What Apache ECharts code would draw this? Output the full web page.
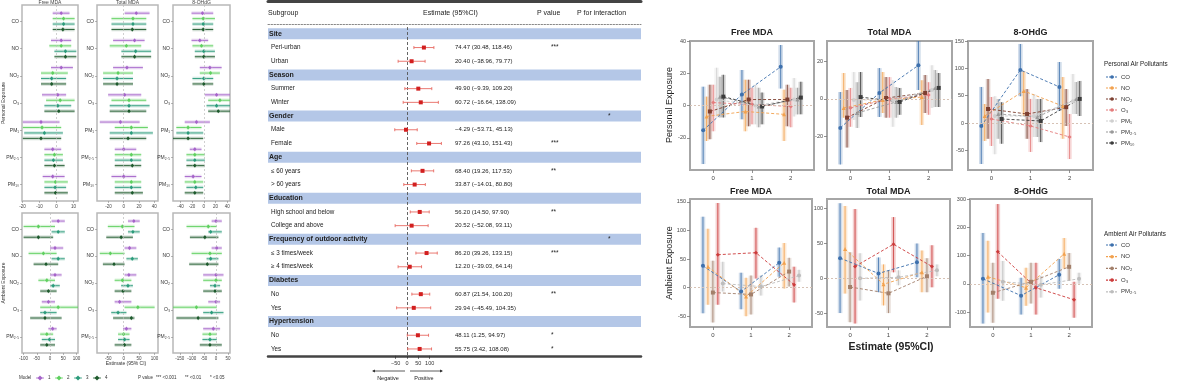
<!DOCTYPE html>
<html><head><meta charset="utf-8">
<script src="https://cdn.jsdelivr.net/npm/echarts@6/dist/echarts.min.js"></script>
<style>html,body{margin:0;padding:0;background:#fff}#c{width:1177px;height:383px}</style>
</head><body><div id="c"></div>
<script>
// ================= DATA =================
const personalPollutants = ['CO','NO','NO₂','O₃','PM₁','PM₂.₅','PM₁₀'];
const ambientPollutants = ['CO','NO','NO₂','O₃','PM₂.₅'];
const outcomes = ['Free MDA','Total MDA','8-OHdG'];
const modelLabels = ['1','2','3','4'];
const exposureLevels = [0,1,2];

// Left forest plots: per pollutant, per model [lo, est, hi]
const fpFreePersonal = [
 [[-2.2,2.8,7.7],[-2.2,4.2,10.7],[-2.2,4.2,10.7],[-2.2,3.8,10.7]],
 [[-3.2,2.8,8.7],[-4.2,2.8,8.7],[-1.2,5.3,11.7],[-1.2,5.3,11.7]],
 [[-3.2,2.8,9.7],[-9.1,-2.2,6.7],[-9.1,-2.8,5.7],[-9.1,-2.8,5.7]],
 [[-8.5,0.8,5.7],[-6.1,2.2,10.7],[-7.1,0.8,8.7],[-7.1,1.4,10.7]],
 [[-19.8,-9.1,1.8],[-19.8,-8.5,2.8],[-19,-7.1,3.8],[-19.8,-9.1,2.8]],
 [[-7.1,-2.2,2.8],[-7.1,-1.2,3.8],[-7.1,-1.8,3.8],[-7.1,-1.2,4.8]],
 [[-8.1,-2.2,4.8],[-7.1,-0.6,6.7],[-7.1,-0.8,5.7],[-7.1,-0.6,6.7]]
];
const fpTotalPersonal = [
 [[1.3,16.5,33.9],[-16,12.2,29.6],[-16,12.2,29.6],[-16,11.3,29.6]],
 [[-13.9,14.3,27.4],[-18.3,3.5,23],[-3,15.7,36],[-3,14.3,36]],
 [[-13.9,4.3,25.2],[-27,-7.4,12.2],[-27,-8.7,12.2],[-27,-8.7,12.2]],
 [[-20.4,1.3,23],[-16,7,29.6],[-18.3,7,33.9],[-18.3,7,29.6]],
 [[-31.3,-4.3,20.9],[-11.7,10,31.7],[-18.3,10,38.3],[-18.3,5.7,29.6]],
 [[-11.7,0,16.5],[-11.7,10,23],[-11.7,10,23],[-11.7,11.3,23]],
 [[-16,0,16.5],[-11.7,10,23],[-11.7,10,23],[-11.7,11.3,25.2]]
];
const fpOhdgPersonal = [
 [[-21,-2.3,16],[-19.4,-1.1,18.9],[-19.4,-1.1,16],[-19.4,-1.1,16]],
 [[-21,-6.9,7.4],[-19.4,-4,16],[-15.4,0,18.9],[-15.4,0,18.9]],
 [[-6.9,10.3,30.3],[-6.9,11.4,27.4],[-19.4,0,16],[-19.4,0,16]],
 [[1.7,21.7,44.6],[7.4,27.4,44.6],[4.6,21.7,44.6],[7.4,24.6,44.6]],
 [[-32.6,-12.6,10.3],[-46.9,-26.9,-4],[-46.9,-26.9,-1.1],[-52.6,-26.9,-1.1]],
 [[-24,-15.4,-4],[-29.7,-15.4,1.7],[-29.7,-15.4,1.7],[-29.7,-15.4,1.7]],
 [[-32.6,-18.3,-4],[-32.6,-15.4,-1.1],[-29.7,-13.7,-1.1],[-32.6,-15.4,-1.1]]
];
const fpFreeAmbient = [
 [[6,31,56],[-100,-44,19],[6,31,56],[-100,-44,12]],
 [[0,19,50],[-81,-25,25],[6,31,56],[-62,-15,31]],
 [[0,19,44],[-44,-12,19],[0,12,37],[-37,-6,25]],
 [[-31,-6,19],[-37,31,106],[-37,-19,25],[-75,-19,44]],
 [[-6,10,25],[-37,-12,12],[-31,-2,19],[-37,-12,19]]
];
const fpTotalAmbient = [
 [[14,33,52],[-51,-4,35],[14,30,52],[-56,-8,30]],
 [[3,19,41],[-77,-43,3],[9,28,46],[-67,-31,3]],
 [[3,17,41],[-29,-4,25],[-8,14,30],[-29,-2,25]],
 [[-29,-13,25],[3,46,100],[-40,-18,9],[-34,25,35]],
 [[-2,9,25],[-18,0,19],[-18,3,19],[-29,3,25]]
];
const fpOhdgAmbient = [
 [[-18,0,24],[-122,-32,3],[-32,-22,24],[-108,-46,10]],
 [[-18,3,24],[-101,-25,24],[-39,-22,10],[-111,-36,10]],
 [[-53,0,31],[-53,0,24],[-25,-4,17],[-53,-4,24]],
 [[-32,0,17],[-178,-81,3],[-53,-18,31],[-164,-74,10]],
 [[-53,-11,17],[-56,-25,3],[-56,-25,3],[-67,-25,24]]
];
const fpXMin = [-20.3,-35,-52.6,-106,-86,-178];
const fpXMax = [12.7,45,44.6,106,111,58];
const fpXTicks = [[-20,-10,0,10],[-20,0,20,40],[-40,-20,0,20,40],[-100,-50,0,50,100],[-50,0,50,100],[-150,-100,-50,0,50]];

// Middle subgroup forest table
const tableGroups = ['Site','Season','Gender','Age','Education','Frequency of outdoor activity','Diabetes','Hypertension'];
const tableSubgroups = [['Peri-urban','Urban'],['Summer','Winter'],['Male','Female'],['≤ 60 years','> 60 years'],['High school and below','College and above'],['≤ 3 times/week','≥ 4 times/week'],['No','Yes'],['No','Yes']];
const tableEst = [74.47,20.40,49.90,60.72,-4.29,97.26,68.40,33.87,56.20,20.52,86.20,12.20,60.87,29.94,48.11,55.75];
const tableLo  = [30.48,-38.96,-9.39,-16.64,-53.71,43.10,19.26,-14.01,14.50,-52.08,39.26,-39.03,21.54,-45.49,1.25,3.42];
const tableHi  = [118.46,79.77,109.20,138.09,45.13,151.43,117.53,80.80,97.90,93.11,133.15,64.14,100.20,104.35,94.97,108.08];
const tablePStars = ['***','','','','','***','**','','**','','***','','**','','*','*'];
const tableInteraction = ['','','*','','','*','',''];
const tableTicks = [-50,0,50,100];

// Right line plots: per pollutant, values at exposure levels 0,1,2
const lpFreePersonalEst = [[-15.4,6.8,24],[-6.8,-3.7,-5.5],[-3.7,3.7,3.7],[1.8,0.6,-0.6],[3.7,0,3.7],[5.5,-0.6,3.7],[5.5,-0.6,4.9]];
const lpFreePersonalLo  = [[-36.3,-8.6,10.5],[-22,-16,-22],[-20.9,-12.9,-12.9],[-16,-11.7,-13.5],[-6.8,-11.7,-6.8],[-7.4,-13.5,-5.5],[-7.4,-11.7,-5.5]];
const lpFreePersonalHi  = [[11.7,22,37.5],[5.5,16,9.8],[12.9,16,12.9],[12.9,11,11],[23.4,12.9,17],[17.8,11,11],[19,8,14.7]];
const lpTotalPersonalEst = [[-15.5,3.2,18],[-4.8,-0.5,1],[-10,0.5,3.2],[-4.8,0,2.1],[-0.5,-0.5,4.8],[-7.5,-1.6,5.9],[1,-1.6,5.9]];
const lpTotalPersonalLo  = [[-35,-9.6,4.8],[-10,-7.5,-13.9],[-26,-10,-7.5],[-14.9,-10,-8.5],[-11.2,-14.9,-4.8],[-15.5,-10,-4.3],[-9.6,-8.5,-4.3]];
const lpTotalPersonalHi  = [[3.7,16.5,35],[13.9,14.4,10],[4.8,11.7,12.8],[5.9,11.7,9],[14.4,10,18],[9,6.4,15.5],[14.4,5.9,13.9]];
const lpOhdgPersonalEst = [[-5.5,97,66],[12.8,58.6,31],[25.6,16.5,29],[7.3,-5.5,-25.6],[12.8,12.8,40],[16.5,11,44],[7.3,3.7,44]];
const lpOhdgPersonalLo  = [[-75,49,22],[-33,12.8,-29],[-29,-29,-5.5],[-42,-53,-66],[-57,-25.6,16.5],[-29,-25.6,16.5],[-38,-35,12.8]];
const lpOhdgPersonalHi  = [[66,144.6,111.6],[34.8,95,84],[80.5,62,62],[47.6,44,16.5],[49,53,89.6],[44,44,75],[38,44,77]];
const lpFreeAmbientEst = [[38,-7,43.5],[36.6,-15.7,43.5],[-8.7,-12,28],[57.5,61,5],[7,1.7,21]];
const lpFreeAmbientLo  = [[-45,-38,19],[-30,-50,-1.7],[-61,-47,1.7],[-30,15.7,-26],[-7,-14,10]];
const lpFreeAmbientHi  = [[124,26,70],[103,17,78],[47,21,52],[148,104.5,36.6],[45,21,31]];
const lpTotalAmbientEst = [[29,7,23],[42,-8.6,8.6],[-12.5,-21.6,2.9],[17,49,17],[0,1.4,11.5]];
const lpTotalAmbientLo  = [[-50,-20,1.4],[-22,-39,-20],[-63,-50,-20],[-65,8.6,-13],[-32,-10,2.9]];
const lpTotalAmbientHi  = [[108,30,50],[104,20,40],[37.5,11.5,29],[99.5,88,47.5],[36,11.5,20]];
const lpOhdgAmbientEst = [[17.6,-42,32],[24.7,-14,106],[-31.8,7,60],[113,-14,-56.5],[7,-3.5,17.6]];
const lpOhdgAmbientLo  = [[-141,-109,-17.6],[-102,-78,53],[-138,-70,10.6],[-53,-109,-120],[-60,-49,0]];
const lpOhdgAmbientHi  = [[180,21,88],[152,56.5,162],[74,74,109],[282,74,7],[81,28,39]];
const lpYMin = [-40,-38,-86,-69,-70,-153];
const lpYMax = [40,31,150,155,114,300];
const lpYTicks = [[-20,0,20,40],[-20,0,20],[-50,0,50,100,150],[-50,0,50,100,150],[-50,0,50,100],[-100,0,100,200,300]];

// ================= STYLE =================
const FONT = 'Liberation Sans, Arial, sans-serif';
const modelColors = ['#a563c9','#5fd05f','#2b9b7a','#1e5a2d'];
const modelOffsets = [-0.3,-0.1,0.1,0.3];
const personalColors = ['#3d70ad','#f2a14e','#7d3f30','#e47c7c','#cfcfcf','#9a9a9a','#3c3c3c'];
const ambientColors = ['#3d70ad','#f2a14e','#a3806b','#cc3b3b','#bdbdbd'];
const personalSymbols = ['circle','triangle','rect','diamond','circle','triangle','rect'];
const ambientSymbols = ['circle','triangle','rect','diamond','circle'];
const personalDodge = [-0.26,-0.173,-0.087,0,0.087,0.173,0.26];
const ambientDodge = [-0.26,-0.13,0,0.13,0.26];

const grids=[], xAxes=[], yAxes=[], series=[], graphics=[];
function txt(x,y,text,size,opts){
  opts=opts||{};
  const el={type:'text', x:x, y:y, silent:true, style:{text:text, font:(opts.style||'normal')+' '+(opts.weight||'normal')+' '+size+'px '+FONT,
    fill:opts.color||'#222', align:opts.align||'left', textAlign:opts.align||'left',
    verticalAlign:'middle', textVerticalAlign:'middle'}};
  if(opts.rotation){el.rotation=opts.rotation;}
  graphics.push(el);
}
function addX(cfg){ xAxes.push(cfg); return xAxes.length-1; }
function addY(cfg){ yAxes.push(cfg); return yAxes.length-1; }

// ================= LEFT: forest panels =================
const leftX = [[22,78],[97,158],[173,230]];
const leftY = [[5,201],[213,353]];
const leftData = [fpFreePersonal,fpTotalPersonal,fpOhdgPersonal,fpFreeAmbient,fpTotalAmbient,fpOhdgAmbient];
function forestRender(params, api){
  const lo=api.value(0), est=api.value(1), hi=api.value(2), cat=api.value(3), m=api.value(4);
  const yv = cat + modelOffsets[m];
  const a=api.coord([lo,yv]), b=api.coord([hi,yv]), c=api.coord([est,yv]);
  const col=modelColors[m];
  return {type:'group', children:[
    {type:'rect', shape:{x:a[0], y:a[1]-1.8, width:b[0]-a[0], height:3.6}, style:{fill:col, opacity:0.2}},
    {type:'line', shape:{x1:a[0],y1:a[1],x2:b[0],y2:b[1]}, style:{stroke:col,lineWidth:0.9}},
    {type:'polygon', shape:{points:[[c[0],c[1]-2.2],[c[0]+2.2,c[1]],[c[0],c[1]+2.2],[c[0]-2.2,c[1]]]}, style:{fill:col, stroke:'#fff', lineWidth:0.3}}
  ]};
}
for(let p=0;p<6;p++){
  const r=Math.floor(p/3), c=p%3;
  const cats = r===0 ? personalPollutants : ambientPollutants;
  const gi = grids.length;
  grids.push({left:leftX[c][0], width:leftX[c][1]-leftX[c][0], top:leftY[r][0], height:leftY[r][1]-leftY[r][0],
    show:true, borderColor:'#b8b8b8', borderWidth:1.5, backgroundColor:'#fff'});
  const xi = addX({gridIndex:gi, type:'value', min:fpXMin[p], max:fpXMax[p],
    axisLine:{show:false, onZero:false}, splitLine:{show:false},
    axisTick:{show:true, customValues:fpXTicks[p], length:2, lineStyle:{color:'#888',width:0.6}},
    axisLabel:{customValues:fpXTicks[p], fontSize:4.5, margin:3, color:'#444', fontFamily:FONT}});
  const idx = cats.map((_,i)=>i);
  const yi = addY({gridIndex:gi, type:'value', inverse:true, min:-0.6, max:cats.length-0.4,
    axisLine:{show:false, onZero:false}, splitLine:{show:false},
    axisTick:{show:true, customValues:idx, length:2, lineStyle:{color:'#888',width:0.6}},
    axisLabel:{customValues:idx, formatter:v=>cats[Math.round(v)], fontSize:5, margin:3, color:'#333', fontFamily:FONT}});
  const data=[];
  leftData[p].forEach((rows,ci)=>rows.forEach((v,m)=>data.push([v[0],v[1],v[2],ci,m])));
  series.push({type:'custom', xAxisIndex:xi, yAxisIndex:yi, clip:true, renderItem:forestRender,
    encode:{x:[0,1,2], y:3}, data:data, silent:true,
    markLine:{silent:true, symbol:'none', label:{show:false}, lineStyle:{type:[2,2], color:'#bbb', width:0.7}, data:[{xAxis:0}]}});
}
outcomes.forEach((t,c)=>txt((leftX[c][0]+leftX[c][1])/2, 2.5, t, 5, {align:'center', color:'#444'}));
txt(4,103,'Personal Exposure',5,{align:'center',rotation:Math.PI/2,color:'#333'});
txt(4,283,'Ambient Exposure',5,{align:'center',rotation:Math.PI/2,color:'#333'});
txt(126,364,'Estimate (95% CI)',5,{align:'center',color:'#333'});
txt(19,378,'Model',4.5,{color:'#333'});
modelLabels.forEach((m,i)=>{
  const x=40+i*19;
  graphics.push({type:'line', silent:true, shape:{x1:x-4,y1:378,x2:x+4,y2:378}, style:{stroke:modelColors[i],lineWidth:0.8}});
  graphics.push({type:'polygon', silent:true, shape:{points:[[x,375.5],[x+2.5,378],[x,380.5],[x-2.5,378]]}, style:{fill:modelColors[i]}});
  txt(x+8,378,m,4.5,{color:'#333'});
});
txt(138,378,'P value',4.5,{color:'#333'});
txt(156,378,'*** <0.001',4.5,{color:'#333'});
txt(185,378,'** <0.01',4.5,{color:'#333'});
txt(210,378,'* <0.05',4.5,{color:'#333'});

// ================= MIDDLE: subgroup table =================
const tableRows=[];
let k=0;
tableGroups.forEach((g,gi)=>{
  tableRows.push({header:true, label:g, inter:tableInteraction[gi]});
  tableSubgroups[gi].forEach(s=>{
    tableRows.push({header:false, label:s, k:k}); k++;
  });
});
const fmt=v=>(v<0?'−':'')+Math.abs(v).toFixed(2);
const rowNames = tableRows.map((r,i)=>String(i));
const TBL_L=268, TBL_W=373, TBL_T=27, TBL_H=328.8;
const tg = grids.length;
grids.push({left:TBL_L, width:TBL_W, top:TBL_T, height:TBL_H, show:false});
const txi = addX({gridIndex:tg, type:'value', min:0, max:1, position:'bottom', axisLine:{show:true, onZero:false, lineStyle:{color:'#444', width:2.5}},
  axisTick:{show:false}, axisLabel:{show:false}, splitLine:{show:false}});
addX({gridIndex:tg, type:'value', min:0, max:1, position:'top', offset:26, axisLine:{show:true, onZero:false, lineStyle:{color:'#444', width:3}},
  axisTick:{show:false}, axisLabel:{show:false}, splitLine:{show:false}});
addX({gridIndex:tg, type:'value', min:0, max:1, position:'top', offset:3, axisLine:{show:true, onZero:false, lineStyle:{color:'#888', width:1, type:[1.5,1.5]}},
  axisTick:{show:false}, axisLabel:{show:false}, splitLine:{show:false}});
const tyi = addY({gridIndex:tg, type:'category', data:rowNames, inverse:true, show:false});
series.push({type:'custom', xAxisIndex:txi, yAxisIndex:tyi, silent:true, data:tableRows.map((r,i)=>[0,i]), encode:{x:0,y:1},
  z:1,
  renderItem:function(params, api){
    const r=tableRows[params.dataIndex];
    const y=api.coord([0,params.dataIndex])[1];
    const cs=params.coordSys;
    const ch=[];
    const T=(x,s,size,w,al)=>({type:'text', style:{text:s, x:x, y:y, font:(w||'normal')+' '+size+'px '+FONT, fill:'#222',
      align:al||'left', textAlign:al||'left', verticalAlign:'middle', textVerticalAlign:'middle'}});
    if(r.header){
      ch.push({type:'rect', shape:{x:cs.x, y:y-5.5, width:cs.width, height:11}, style:{fill:'#b4c7e7'}});
      ch.push(T(cs.x+1, r.label, 7, 'bold'));
      if(r.inter) ch.push(T(608, r.inter, 6.5));
    } else {
      ch.push(T(cs.x+3, r.label, 6.3));
      ch.push(T(455, fmt(tableEst[r.k])+' ('+fmt(tableLo[r.k])+', '+fmt(tableHi[r.k])+')', 6));
      if(tablePStars[r.k]) ch.push(T(551, tablePStars[r.k], 6.5));
    }
    return {type:'group', children:ch};
  }});
const fg = grids.length;
grids.push({left:395.6, width:34.1, top:TBL_T, height:TBL_H, show:false});
const fxi = addX({gridIndex:fg, type:'value', min:-50, max:100, interval:50, axisLine:{show:false, onZero:false}, splitLine:{show:false},
  axisTick:{show:true, length:3, lineStyle:{color:'#333', width:0.8}},
  axisLabel:{fontSize:5.5, margin:5, color:'#333', fontFamily:FONT, formatter:v=>(v<0?'−':'')+Math.abs(v)}});
const fyi = addY({gridIndex:fg, type:'category', data:rowNames, inverse:true, show:false});
const forestData=[];
tableRows.forEach((r,i)=>{ if(!r.header) forestData.push([tableEst[r.k], i, tableLo[r.k], tableHi[r.k]]); });
series.push({type:'custom', xAxisIndex:fxi, yAxisIndex:fyi, silent:true, z:5, data:forestData, encode:{x:[0,2,3], y:1},
  renderItem:function(params, api){
    const est=api.value(0), row=api.value(1), lo=api.value(2), hi=api.value(3);
    const a=api.coord([lo,row]), b=api.coord([hi,row]), c=api.coord([est,row]);
    return {type:'group', children:[
      {type:'line', shape:{x1:a[0],y1:a[1],x2:b[0],y2:b[1]}, style:{stroke:'#e86a62', lineWidth:0.9}},
      {type:'line', shape:{x1:a[0],y1:a[1]-1.5,x2:a[0],y2:a[1]+1.5}, style:{stroke:'#e86a62', lineWidth:0.9}},
      {type:'line', shape:{x1:b[0],y1:b[1]-1.5,x2:b[0],y2:b[1]+1.5}, style:{stroke:'#e86a62', lineWidth:0.9}},
      {type:'rect', shape:{x:c[0]-2,y:c[1]-2,width:4,height:4}, style:{fill:'#d21f1f'}}
    ]};
  },
  markLine:{silent:true, symbol:'none', label:{show:false}, lineStyle:{type:[3,2], color:'#555', width:0.9}, data:[{xAxis:0}]}});
txt(268,12.7,'Subgroup',7);
txt(423,12.7,'Estimate (95%CI)',7);
txt(537,12.7,'P value',7);
txt(577,12.7,'P for interaction',7);
graphics.push({type:'line', silent:true, shape:{x1:405,y1:371,x2:373,y2:371}, style:{stroke:'#333',lineWidth:0.8}});
graphics.push({type:'polygon', silent:true, shape:{points:[[372,371],[375,369.5],[375,372.5]]}, style:{fill:'#333'}});
graphics.push({type:'line', silent:true, shape:{x1:410,y1:371,x2:442,y2:371}, style:{stroke:'#333',lineWidth:0.8}});
graphics.push({type:'polygon', silent:true, shape:{points:[[443,371],[440,369.5],[440,372.5]]}, style:{fill:'#333'}});
txt(388,378,'Negative',5.5,{align:'center'});
txt(424,378,'Positive',5.5,{align:'center'});

// ================= RIGHT: line panels =================
const rightX = [[[690,814],[827,952],[968,1093]],[[690,812],[827,950],[970,1092]]];
const rightY = [[41,170],[199,327]];
const lpEst = [lpFreePersonalEst,lpTotalPersonalEst,lpOhdgPersonalEst,lpFreeAmbientEst,lpTotalAmbientEst,lpOhdgAmbientEst];
const lpLo  = [lpFreePersonalLo,lpTotalPersonalLo,lpOhdgPersonalLo,lpFreeAmbientLo,lpTotalAmbientLo,lpOhdgAmbientLo];
const lpHi  = [lpFreePersonalHi,lpTotalPersonalHi,lpOhdgPersonalHi,lpFreeAmbientHi,lpTotalAmbientHi,lpOhdgAmbientHi];
function errRender(color){
  return function(params, api){
    const x=api.value(0), lo=api.value(1), hi=api.value(2);
    const a=api.coord([x,hi]), b=api.coord([x,lo]);
    return {type:'group', children:[
      {type:'rect', shape:{x:a[0]-2.3, y:a[1], width:4.6, height:b[1]-a[1]}, style:{fill:color, opacity:0.24}},
      {type:'line', shape:{x1:a[0],y1:a[1],x2:b[0],y2:b[1]}, style:{stroke:color, lineWidth:1.1, opacity:0.8}}
    ]};
  };
}
for(let p=0;p<6;p++){
  const r=Math.floor(p/3), c=p%3;
  const names = r===0 ? personalPollutants : ambientPollutants;
  const colors = r===0 ? personalColors : ambientColors;
  const syms = r===0 ? personalSymbols : ambientSymbols;
  const dodge = r===0 ? personalDodge : ambientDodge;
  const gi = grids.length;
  const X=rightX[r][c], Y=rightY[r];
  grids.push({left:X[0], width:X[1]-X[0], top:Y[0], height:Y[1]-Y[0], show:true, borderColor:'#a6a6a6', borderWidth:2, backgroundColor:'#fff'});
  const xi = addX({gridIndex:gi, type:'value', min:-0.6, max:2.6, axisLine:{show:false, onZero:false}, splitLine:{show:false},
    axisTick:{show:true, customValues:exposureLevels, length:3, lineStyle:{color:'#777',width:0.8}},
    axisLabel:{customValues:exposureLevels, fontSize:6, margin:5, color:'#444', fontFamily:FONT}});
  const yi = addY({gridIndex:gi, type:'value', min:lpYMin[p], max:lpYMax[p], axisLine:{show:false, onZero:false}, splitLine:{show:false},
    axisTick:{show:true, customValues:lpYTicks[p], length:3, lineStyle:{color:'#777',width:0.8}},
    axisLabel:{customValues:lpYTicks[p], fontSize:5.5, margin:4, color:'#444', fontFamily:FONT}});
  names.forEach((nm,s)=>{
    const col=colors[s];
    const errData = exposureLevels.map((lv,j)=>[lv+dodge[s], lpLo[p][s][j], lpHi[p][s][j]]);
    series.push({type:'custom', name:nm, xAxisIndex:xi, yAxisIndex:yi, silent:true, clip:true, z:2,
      renderItem:errRender(col), encode:{x:0, y:[1,2]}, data:errData});
    const ln={type:'line', name:nm, xAxisIndex:xi, yAxisIndex:yi, silent:true, z:3,
      data:exposureLevels.map((lv,j)=>[lv+dodge[s], lpEst[p][s][j]]),
      symbol:syms[s], symbolSize:4, showSymbol:true,
      lineStyle:{color:col, width:1, type:[3,2], opacity:0.9}, itemStyle:{color:col}};
    if(s===0){
      ln.markLine={silent:true, symbol:'none', label:{show:false}, lineStyle:{type:[2,2], color:'#d6c2b5', width:1}, data:[{yAxis:0}]};
    }
    series.push(ln);
  });
}
outcomes.forEach((t,c)=>{
  txt((rightX[0][c][0]+rightX[0][c][1])/2, 33, t, 9, {align:'center', weight:'bold', color:'#222'});
  txt((rightX[1][c][0]+rightX[1][c][1])/2, 192, t, 9, {align:'center', weight:'bold', color:'#222'});
});
txt(670,105,'Personal Exposure',9,{align:'center',rotation:Math.PI/2,color:'#222'});
txt(670,263,'Ambient Exposure',9,{align:'center',rotation:Math.PI/2,color:'#222'});
txt(891,347,'Estimate (95%CI)',10.5,{align:'center',weight:'bold',color:'#222'});
function legendBlock(title, ty, names, colors, y0, step){
  txt(1104, ty, title, 6.3, {color:'#222'});
  names.forEach((nm,i)=>{
    const y=y0+i*step;
    graphics.push({type:'line', silent:true, shape:{x1:1106,y1:y,x2:1118,y2:y}, style:{stroke:colors[i],lineWidth:1.2,lineDash:[2,1]}});
    graphics.push({type:'circle', silent:true, shape:{cx:1112,cy:y,r:1.8}, style:{fill:colors[i]}});
    txt(1121, y, nm, 6, {color:'#333'});
  });
}
legendBlock('Personal Air Pollutants', 64, personalPollutants, personalColors, 77, 11);
legendBlock('Ambient Air Pollutants', 234, ambientPollutants, ambientColors, 245, 11.7);

const chart = echarts.init(document.getElementById('c'), null, {renderer:'canvas'});
chart.setOption({
  animation:false, backgroundColor:'#fff', textStyle:{fontFamily:FONT},
  grid:grids, xAxis:xAxes, yAxis:yAxes, series:series, graphic:{elements:graphics}
});
</script></body></html>
